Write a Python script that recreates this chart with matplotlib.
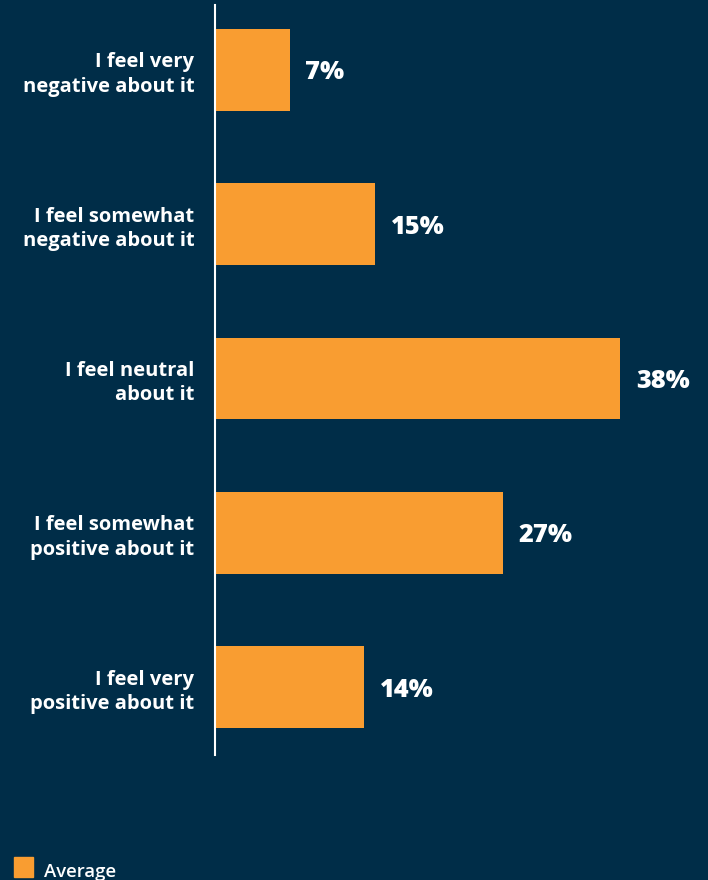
import matplotlib
matplotlib.use('Agg')
import matplotlib.pyplot as plt
from matplotlib.patches import Rectangle

categories = ['I feel very\nnegative about it',
              'I feel somewhat\nnegative about it',
              'I feel neutral\nabout it',
              'I feel somewhat\npositive about it',
              'I feel very\npositive about it']
values = [7, 15, 38, 27, 14]
series_name = 'Average'

bg = '#002d48'
orange = '#f99d31'

plt.rcParams['font.family'] = ['Open Sans', 'DejaVu Sans']

fig = plt.figure(figsize=(7.08, 8.8), dpi=100, facecolor=bg)
ax = fig.add_axes([215 / 708, 1 - 755 / 880, 493 / 708, 750 / 880])
ax.set_facecolor(bg)

ypos = list(range(len(categories)))
ax.barh(ypos, values, height=0.53, color=orange, zorder=2)

ax.set_xlim(0, 493 / 10.67)
ax.set_ylim(4.44, -0.42)

for y, v in zip(ypos, values):
    ax.text(v + 1.45, y, f'{v}%', va='center_baseline', ha='left', color='white',
            fontsize=18.3, fontweight='heavy')

ax.set_yticks(ypos)
ax.set_yticklabels(categories, fontsize=14.5, fontweight='bold', color='white',
                   linespacing=1.3)
ax.tick_params(axis='y', length=0, pad=15)
ax.set_xticks([])

for s in ['top', 'right', 'bottom']:
    ax.spines[s].set_visible(False)
ax.spines['left'].set_color('white')
ax.spines['left'].set_linewidth(1.5)

# legend at bottom left
fig.patches.append(Rectangle((14 / 708, 1 - 877 / 880), 19 / 708, 20 / 880,
                             transform=fig.transFigure, color=orange))
fig.text(44 / 708, 1 - 877 / 880, series_name, color='white', fontsize=13.3,
         va='baseline', ha='left', fontweight='semibold')

fig.savefig('out.png', dpi=100, facecolor=bg)
